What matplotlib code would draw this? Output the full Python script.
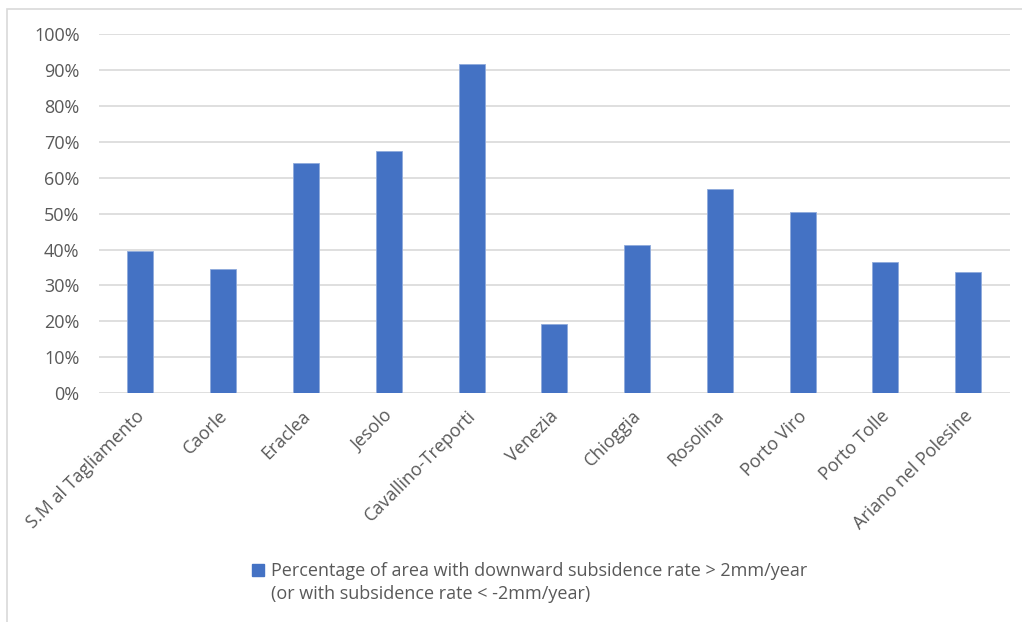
import matplotlib
matplotlib.use("Agg")
import matplotlib.pyplot as plt
from matplotlib.patches import Patch, Rectangle
from matplotlib.ticker import PercentFormatter
from matplotlib.transforms import ScaledTranslation

# percentage of municipal area subsiding faster than 2 mm/year
towns = ["S.M al Tagliamento", "Caorle", "Eraclea", "Jesolo", "Cavallino-Treporti",
         "Venezia", "Chioggia", "Rosolina", "Porto Viro", "Porto Tolle",
         "Ariano nel Polesine"]
share = [39.5, 34.5, 64.0, 67.4, 91.6, 19.2, 41.4, 57.0, 50.6, 36.6, 33.7]

legend_line1 = "Percentage of area with downward subsidence rate > 2mm/year"
legend_line2 = "(or with subsidence rate < -2mm/year)"

blue = "#4472C4"
grey_text = "#595959"
grid_col = "#D9D9D9"

plt.rcParams["font.family"] = ["Open Sans", "DejaVu Sans"]

fig = plt.figure(figsize=(10.22, 6.22), dpi=100)
ax = fig.add_axes([0.0969, 0.368, 0.891, 0.577])

x = range(len(towns))
ax.bar(x, share, width=0.315, color=blue, edgecolor="#8FAADC", linewidth=0.6, zorder=3)

ax.set_ylim(0, 100)
ax.set_xlim(-0.5, len(towns) - 0.5)
ax.set_yticks(range(0, 101, 10))
ax.yaxis.set_major_formatter(PercentFormatter(decimals=0))
ax.grid(axis="y", color=grid_col, linewidth=1.2, zorder=0)
for s in ["top", "right", "left", "bottom"]:
    ax.spines[s].set_visible(False)
ax.tick_params(axis="both", length=0, colors=grey_text, labelsize=13)
ax.tick_params(axis="y", pad=14)
ax.tick_params(axis="x", pad=10)
ax.set_xticks(list(x))
ax.set_xticklabels(towns, rotation=45, ha="right", va="top", rotation_mode="anchor",
                   color=grey_text, fontsize=13)
# nudge rotated labels a little to the left
shift = ScaledTranslation(-5 / 100, 0, fig.dpi_scale_trans)
for lab in ax.get_xticklabels():
    lab.set_transform(lab.get_transform() + shift)

# outer chart frame
fig.patches.append(Rectangle((7 / 1022, -0.05), 1.1, 1 - 9 / 622 + 0.05,
                             transform=fig.transFigure, fill=False,
                             edgecolor="#D9D9D9", linewidth=1.2))

leg = fig.legend(handles=[Patch(facecolor=blue, edgecolor=blue)], labels=[legend_line1],
                 loc="center left", bbox_to_anchor=(236 / 1022, 1 - 571 / 622),
                 frameon=False, fontsize=13, handlelength=0.65, handleheight=0.65,
                 handletextpad=0.4, labelcolor=grey_text)

fig.canvas.draw()
t = leg.get_texts()[0]
bb = t.get_window_extent().transformed(fig.transFigure.inverted())
fig.text(bb.x0, bb.y0 - 0.008, legend_line2, color=grey_text, fontsize=13,
         ha="left", va="top")

fig.savefig("out.png", dpi=100)
